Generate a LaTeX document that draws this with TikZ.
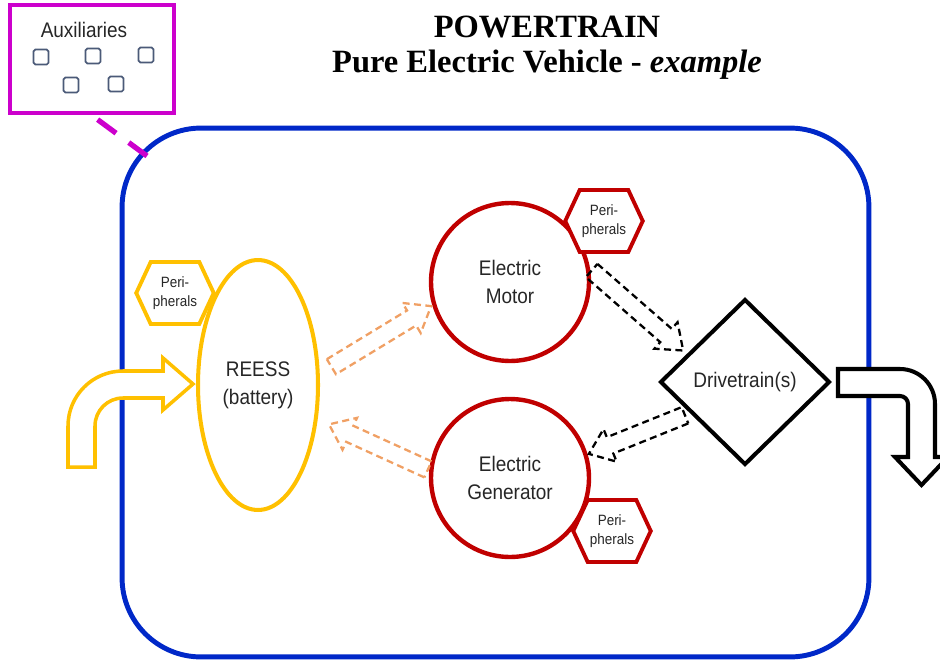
\documentclass[tikz,border=0pt]{standalone}
\usepackage{fontspec}
\setmainfont{Liberation Serif}
\setsansfont{Liberation Sans}[FakeStretch=0.9]
\usetikzlibrary{shapes.geometric,shapes.symbols,calc}
\definecolor{gold}{RGB}{255,192,0}
\definecolor{darkred}{RGB}{192,0,0}
\definecolor{royal}{RGB}{0,40,200}
\definecolor{magent}{RGB}{204,0,204}
\definecolor{peach}{RGB}{240,160,100}
\definecolor{slate}{RGB}{75,90,120}
\definecolor{ink}{RGB}{38,38,38}

% block arrow outline from #2 to #3
\newcommand{\hollowarrow}[3][]{%
  \draw[#1] ($(#2)!5pt!90:(#3)$) -- ($(#3)!13pt!(#2)!5pt!90:(#3)$)
    -- ($(#3)!13pt!(#2)!10pt!90:(#3)$) -- (#3)
    -- ($(#3)!13pt!(#2)!10pt!-90:(#3)$) -- ($(#3)!13pt!(#2)!5pt!-90:(#3)$)
    -- ($(#2)!5pt!-90:(#3)$) -- cycle;}

\begin{document}
\begin{tikzpicture}[x=0.02cm,y=-0.02cm]
    \tikzset{%
      frame/.style={draw=royal, line width=2.8pt, rounded corners=45pt,
        minimum width=14.94cm, minimum height=10.58cm},
      auxbox/.style={draw=magent, line width=2.8pt, minimum width=3.28cm,
        minimum height=2.16cm},
      sq/.style={draw=slate, line width=1pt, rounded corners=1pt,
        minimum size=0.3cm, inner sep=0pt},
      auxlink/.style={draw=magent, line width=3pt, dash pattern=on 13pt off 9pt,
        shorten <=4pt},
      label/.style={text=ink, align=center,
        font=\sffamily\fontsize{12}{16}\selectfont},
      battery/.style={ellipse, draw=gold, line width=2.3pt, minimum width=2.4cm,
        minimum height=5cm, outer sep=8pt, label},
      machine/.style={circle, draw=darkred, line width=2.5pt, minimum size=3.16cm,
        outer sep=2pt, label},
      drive/.style={diamond, draw=black, line width=2.3pt, minimum width=3.48cm,
        minimum height=3.4cm, inner sep=0pt, outer sep=4pt, label},
      periph/.style={signal, signal to=east and west, signal pointer angle=130,
        draw=#1, fill=white, line width=2.2pt, minimum width=1.55cm,
        minimum height=1.24cm, inner sep=1pt, text=ink, align=center,
        font=\sffamily\fontsize{8.5}{11}\selectfont},
      inflow/.style={draw=gold, fill=white, line width=2pt},
      outflow/.style={draw=black, fill=white, line width=2.3pt},
      elflow/.style={draw=peach, line width=1.3pt, dash pattern=on 4pt off 2.5pt},
      mechflow/.style={draw=black, line width=1.3pt, dash pattern=on 4pt off 2.5pt},
    }
    \useasboundingbox (0,0) rectangle (940,663);

    \node[font=\bfseries\fontsize{18.5}{20}\selectfont, anchor=base] (title) at (547,37) {POWERTRAIN};
    \node[font=\bfseries\fontsize{18.5}{20}\selectfont, anchor=base] (subtitle) at (547,72)
      {Pure Electric Vehicle - \textit{example}};

    \node[frame] (pt) at (495.5,392.5) {};

    \node[auxbox] (aux) at (92,59) {};
    \node[label] (auxtxt) at (84,30) {Auxiliaries};
    \node[sq] (a1) at (41,57) {};
    \node[sq] (a2) at (93,56) {};
    \node[sq] (a3) at (146,55) {};
    \node[sq] (a4) at (71,85) {};
    \node[sq] (a5) at (116,84) {};
    \coordinate (auxhook) at (147,156);
    \draw[auxlink] (aux.south) -- (auxhook);

    % energy in / power out
    \draw[inflow] (68,467) -- (68,426) .. controls (68,395.6) and (92.6,371) .. (123,371)
      -- (163,371) -- (163,358) -- (193,384) -- (163,410) -- (163,398) -- (123,398)
      .. controls (107.5,398) and (95,410.5) .. (95,426) -- (95,467) -- cycle;
    \draw[outflow] (838,369) -- (900,369) .. controls (919.3,369) and (935,384.7) .. (935,404)
      -- (935,457) -- (948,457) -- (921.5,485) -- (895,457) -- (908,457) -- (908,404)
      .. controls (908,399.6) and (904.4,396) .. (900,396) -- (838,396) -- cycle;

    \node[battery] (bat) at (258,385) {REESS\\(battery)};
    \node[machine] (mot) at (510,282) {Electric\\Motor};
    \node[machine] (gen) at (510,478) {Electric\\Generator};
    \node[drive] (dt) at (745,382) {Drivetrain(s)};

    \node[periph=gold] (pbat) at (175,293) {Peri-\\pherals};
    \node[periph=darkred] (pmot) at (604,221) {Peri-\\pherals};
    \node[periph=darkred] (pgen) at (612,531) {Peri-\\pherals};

    \hollowarrow[elflow]{bat.14}{mot.197}
    \hollowarrow[elflow]{gen.174}{bat.-29}
    \hollowarrow[mechflow]{mot.8}{dt.153}
    \hollowarrow[mechflow]{dt.209}{gen.17}
\end{tikzpicture}
\end{document}
